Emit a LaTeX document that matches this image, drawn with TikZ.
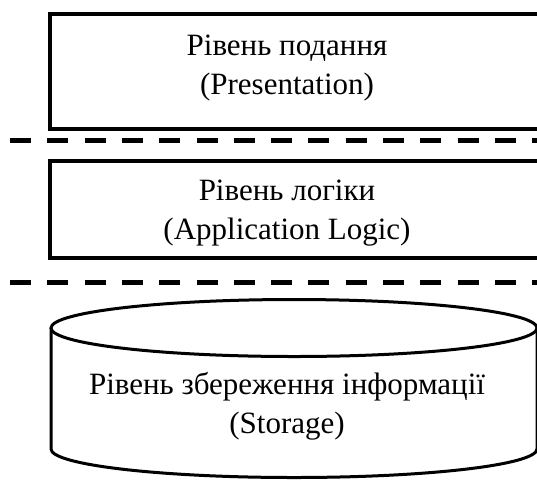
\documentclass[tikz,border=0pt]{standalone}
\usepackage{fontspec}
\setmainfont{Liberation Serif}
\begin{document}
\begin{tikzpicture}[x=1pt,y=-1pt,
  layerbox/.style={line width=4pt},
  sep/.style={line width=5pt, dash pattern=on 21pt off 16.3pt},
  cyl/.style={line width=3pt},
  lbl/.style={font=\fontsize{31}{39}\selectfont, align=center, inner sep=0pt}]
\useasboundingbox (0,0) rectangle (537,480);
\clip (0,0) rectangle (537,480);
% layer 1
\draw[layerbox] (50,14) rectangle (560,129);
\node[lbl] (pres) at (287,68) {Рівень подання\\(Presentation)};
% separator 1
\coordinate (s1a) at (10,140.5);
\coordinate (s1b) at (545,140.5);
\draw[sep] (s1a) -- (s1b);
% layer 2
\draw[layerbox] (50,161) rectangle (560,258);
\node[lbl] (logic) at (287,213.5) {Рівень логіки\\(Application Logic)};
% separator 2
\coordinate (s2a) at (10,282.5);
\coordinate (s2b) at (545,282.5);
\draw[sep] (s2a) -- (s2b);
% storage cylinder
\draw[cyl] (294,328) ellipse [x radius=243, y radius=28.5];
\draw[cyl] (51,328) -- (51,449) arc[start angle=180, end angle=0, x radius=243, y radius=28.5] -- (537,328);
\node[lbl] (stor) at (287,406) {Рівень збереження інформації\\(Storage)};
\end{tikzpicture}
\end{document}
